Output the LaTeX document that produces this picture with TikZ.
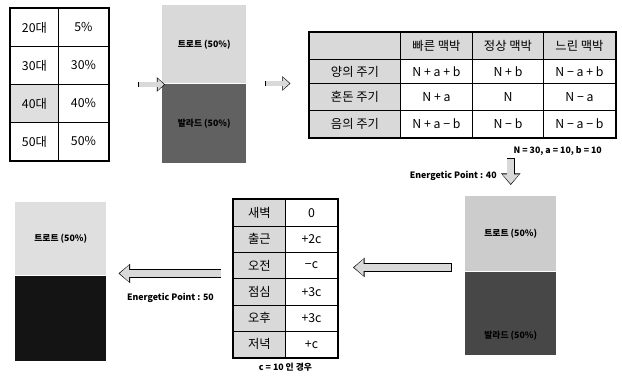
\documentclass[tikz,border=0pt]{standalone}
\usepackage{fontspec}
\setmainfont{Noto Sans CJK KR}
\usepackage{tikz}
\usetikzlibrary{matrix, positioning, calc, arrows.meta}

\newcommand{\tabfont}{\fontsize{10.5}{12}\selectfont}
\newcommand{\notefont}{\fontsize{7.5}{9}\selectfont\bfseries}

\tikzset{
  tabgrid/.style={matrix of nodes, inner sep=0pt, row sep=-\pgflinewidth, column sep=-\pgflinewidth,
    nodes={draw, inner sep=0pt, outer sep=0pt, anchor=center, font=\tabfont}},
  headfill/.style={fill=gray!30},
  bartop/.style={anchor=north west, inner sep=0pt, font=\notefont},
  barbot/.style={below=0pt of #1, inner sep=0pt, font=\notefont},
  hollow/.style={line width=7pt, draw=black, -{Triangle[length=10pt,width=16pt]},
    postaction={draw=gray!30, line width=5.6pt, -{Triangle[length=8pt,width=13.6pt]}, shorten >=1pt, shorten <=0.7pt}},
  smallhollow/.style={line width=5pt, draw=black, -{Triangle[length=7pt,width=12pt]},
    postaction={draw=gray!30, line width=3.8pt, -{Triangle[length=5.4pt,width=9.8pt]}, shorten >=0.9pt, shorten <=0.6pt}},
}

\begin{document}
\begin{tikzpicture}[x=0.03cm, y=-0.03cm]
    \useasboundingbox (0,0) rectangle (622,376);

    % tabella eta'
    \matrix (agetab) [tabgrid, anchor=north west,
        nodes={minimum height=1.14cm},
        column 1/.style={nodes={minimum width=1.44cm}},
        column 2/.style={nodes={minimum width=1.5cm}}] at (10,8) {
      20대 & 5\% \\
      30대 & 30\% \\
      |[fill=gray!25]| 40대 & 40\% \\
      50대 & 50\% \\
    };
    \draw[line width=1pt] (agetab.north west) rectangle (agetab.south east);

    % prima barra
    \node[bartop, fill=gray!30, minimum width=2.52cm, minimum height=2.34cm] (bar1top) at (162,5) {트로트 (50\%)};
    \node[barbot=bar1top, fill=black!62, minimum width=2.52cm, minimum height=2.37cm] (bar1bot) {발라드 (50\%)};

    % tabella dei cicli
    \matrix (cyctab) [tabgrid, anchor=north west, nodes in empty cells,
        row 1/.style={nodes={minimum height=0.81cm}},
        row 2/.style={nodes={minimum height=0.72cm}},
        row 3/.style={nodes={minimum height=0.81cm}},
        row 4/.style={nodes={minimum height=0.81cm}},
        column 1/.style={nodes={minimum width=2.73cm}},
        column 2/.style={nodes={minimum width=2.16cm}},
        column 3/.style={nodes={minimum width=2.13cm}},
        column 4/.style={nodes={minimum width=2.16cm}}] at (309,32) {
      |[headfill]| & |[headfill]| 빠른 맥박 & |[headfill]| 정상 맥박 & |[headfill]| 느린 맥박 \\
      |[headfill]| 양의 주기 & N + a + b & N + b & N − a + b \\
      |[headfill]| 혼돈 주기 & N + a & N & N − a \\
      |[headfill]| 음의 주기 & N + a − b & N − b & N − a − b \\
    };
    \draw[line width=1.4pt] (cyctab.north west) rectangle (cyctab.south east);
    \node[font=\notefont, anchor=north east] (vals) at ($(cyctab.south east)+(-10,4)$) {N = 30,\ a = 10,\ b = 10};

    % seconda barra
    \node[bartop, fill=gray!40, minimum width=2.73cm, minimum height=2.25cm] (bar4top) at (465,196) {트로트 (50\%)};
    \node[barbot=bar4top, fill=black!72, minimum width=2.73cm, minimum height=2.49cm] (bar4bot) {};
    \node[font=\notefont] (bar4txt) at ($(bar4bot.south)+(0,-19)$) {발라드 (50\%)};

    % tabella orari
    \matrix (daytab) [tabgrid, anchor=north west,
        nodes={minimum height=0.79cm},
        column 1/.style={nodes={minimum width=1.56cm}},
        column 2/.style={nodes={minimum width=1.56cm}}] at (233,199) {
      |[headfill]| 새벽 & 0 \\
      |[headfill]| 출근 & +2c \\
      |[headfill]| 오전 & −c \\
      |[headfill]| 점심 & +3c \\
      |[headfill]| 오후 & +3c \\
      |[headfill]| 저녁 & +c \\
    };
    \draw[line width=1.4pt] (daytab.north west) rectangle (daytab.south east);
    \node[font=\notefont, below=1pt of daytab] (cnote) {c = 10 인 경우};

    % terza barra
    \node[bartop, fill=gray!25, minimum width=2.73cm, minimum height=2.19cm] (bar5top) at (15,202) {트로트 (50\%)};
    \node[barbot=bar5top, fill=black!92, minimum width=2.73cm, minimum height=2.55cm] (bar5bot) {};

    % frecce
    \draw[smallhollow] ($(agetab.east)+(29,0)$) -- ($(agetab.east -| bar1top.west)+(3,0)$);
    \draw[smallhollow] ($(bar1top.south east)+(19,0)$) -- ($(bar1top.south east)+(44,0)$);
    \draw[hollow] ($(bar4top.north)+(0,-38)$) -- ($(bar4top.north)+(0,-11)$);
    \node[font=\notefont, anchor=east] (ep40) at ($(bar4top.north)+(-10,-20)$) {Energetic Point : 40};
    \draw[hollow] ($(bar4top.south west)+(-13,-4)$) -- ($(bar4top.south west)+(-112,-4)$);
    \draw[hollow] ($(bar5top.south east)+(115,-2)$) -- ($(bar5top.south east)+(12,-2)$);
    \node[font=\notefont] (ep50) at ($(bar5top.south east)+(64,22)$) {Energetic Point : 50};
\end{tikzpicture}
\end{document}
